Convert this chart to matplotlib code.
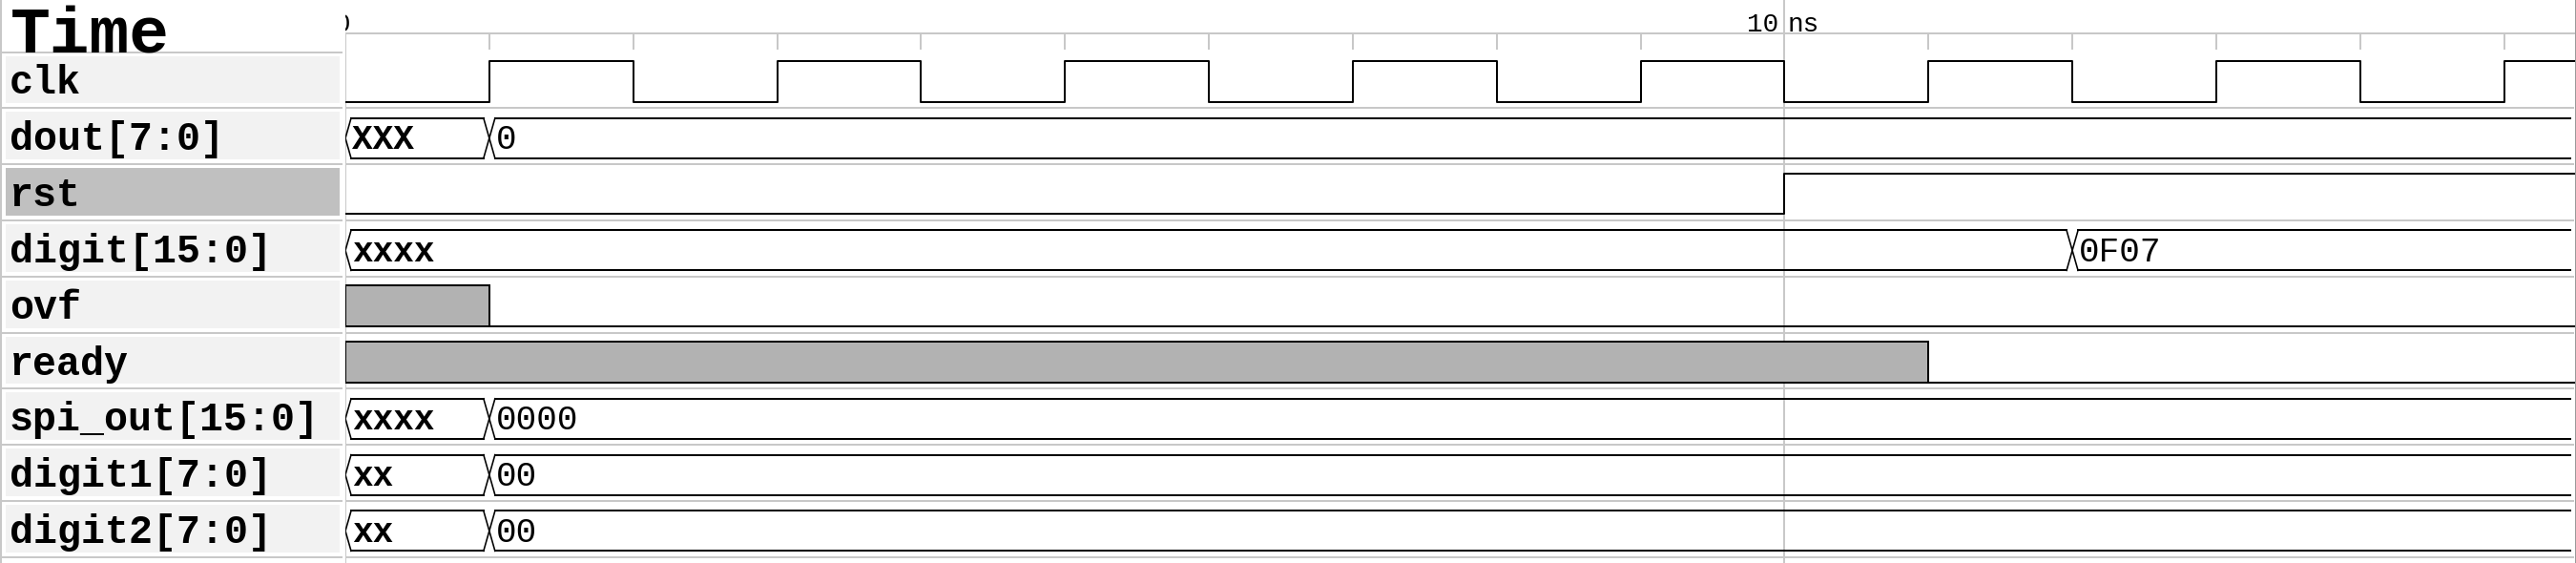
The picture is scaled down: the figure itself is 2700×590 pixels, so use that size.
import matplotlib
matplotlib.use("Agg")
import matplotlib.pyplot as plt
from matplotlib.patches import Rectangle

# ---------------- data ----------------
signal_names = ["clk", "dout[7:0]", "rst", "digit[15:0]", "ovf", "ready",
                "spi_out[15:0]", "digit1[7:0]", "digit2[7:0]"]
selected_signal = "rst"

clk_times = [0, 1, 2, 3, 4, 5, 6, 7, 8, 9, 10, 11, 12, 13, 14, 15]
clk_levels = [0, 1, 0, 1, 0, 1, 0, 1, 0, 1, 0, 1, 0, 1, 0, 1]

dout_times = [0, 1]
dout_values = ["XXX", "0"]

rst_times = [0, 10]
rst_levels = [0, 1]

digit_times = [0, 12]
digit_values = ["xxxx", "0F07"]

ovf_times = [0, 1]
ovf_levels = ["x", 0]

ready_times = [0, 11]
ready_levels = ["x", 0]

spi_out_times = [0, 1]
spi_out_values = ["xxxx", "0000"]

digit1_times = [0, 1]
digit1_values = ["xx", "00"]

digit2_times = [0, 1]
digit2_values = ["xx", "00"]

time_end = 15.5
minor_ticks = [1, 2, 3, 4, 5, 6, 7, 8, 9, 11, 12, 13, 14, 15]
major_ticks = [0, 10]
major_labels = ["0", "10"]
time_unit = "ns"
header_title = "Time"

# ---------------- layout / style ----------------
W, H = 2700, 590
WAVE_X0 = 362
LABEL_W = 358
HEADER_LINE_Y = 35
TICK_BOTTOM = 52
ROW0 = 54.5
PITCH = 58.8
HI_OFF, LO_OFF = 9.5, 52.0
BUS_TOP_OFF, BUS_BOT_OFF = 10.5, 52.5
PX = 72.0 / 100.0          # one pixel in points
LW = 2 * PX
GRID = "#c8c8c8"
XFILL = "#b2b2b2"
LABEL_BG = "#f2f2f2"
SEL_BG = "#c0c0c0"
MONO = "Liberation Mono"

fig = plt.figure(figsize=(W / 100, H / 100), dpi=100)
fig.patch.set_facecolor("white")

# label column
axl = fig.add_axes([0, 0, WAVE_X0 / W, 1])
axl.set_xlim(0, WAVE_X0)
axl.set_ylim(H, 0)
axl.axis("off")

# waveform area
axw = fig.add_axes([WAVE_X0 / W, 0, 1 - WAVE_X0 / W, 1])
axw.set_xlim(0, time_end)
axw.set_ylim(H, 0)
axw.axis("off")

ns_per_px = time_end / (W - WAVE_X0)
D = 6 * ns_per_px

# ---- label column ----
axl.plot([0.5, 0.5], [0, H], color=GRID, lw=LW)
axl.text(11, ROW0, header_title, family=MONO, fontsize=50, fontweight="bold",
         va="baseline", ha="left", color="black")
for k, name in enumerate(signal_names):
    top = ROW0 + k * PITCH
    axl.plot([0, LABEL_W], [top, top], color=GRID, lw=LW, zorder=1)
    bg = SEL_BG if name == selected_signal else LABEL_BG
    axl.add_patch(Rectangle((6, top + 4), 350, PITCH - 9, facecolor=bg,
                            edgecolor="none", zorder=0))
    axl.text(10, top + 44, name, family=MONO, fontsize=30, fontweight="bold",
             va="baseline", ha="left", color="black", zorder=2)
bottom = ROW0 + len(signal_names) * PITCH
axl.plot([0, LABEL_W], [bottom, bottom], color=GRID, lw=LW, zorder=1)

# ---- waveform area grid / header ----
axw.plot([0, time_end], [HEADER_LINE_Y, HEADER_LINE_Y], color=GRID, lw=LW, zorder=1)
axw.vlines(minor_ticks, HEADER_LINE_Y, TICK_BOTTOM, color=GRID, lw=LW, zorder=1)
axw.plot([0, 0], [HEADER_LINE_Y, H], color=GRID, lw=LW, zorder=1)
axw.plot([major_ticks[1]] * 2, [0, H], color=GRID, lw=LW, zorder=1)
axw.plot([time_end, time_end], [0, H], color="#9a9a9a", lw=LW, zorder=5)
for k in range(1, len(signal_names) + 1):
    y = ROW0 + k * PITCH
    axw.plot([0, time_end - 0.02], [y, y], color=GRID, lw=LW, zorder=1)

for t, lab in zip(major_ticks, major_labels):
    axw.text(t - 0.04 + (0.075 if t == 0 else 0), 33, lab, family=MONO,
             fontsize=20, ha="right", va="baseline", color="black",
             clip_on=True)
axw.text(major_ticks[1] + 0.02, 33, time_unit, family=MONO, fontsize=20,
         ha="left", va="baseline", color="black")


def draw_bit(k, times, levels, t_end):
    top = ROW0 + k * PITCH
    yh, yl = top + HI_OFF, top + LO_OFF
    bounds = list(times[1:]) + [t_end]
    xs, ys = [], []
    for t0, t1, lv in zip(times, bounds, levels):
        if lv == "x":
            if xs:
                axw.plot(xs, ys, color="black", lw=LW, zorder=4)
                xs, ys = [], []
            axw.add_patch(Rectangle((t0, yh), t1 - t0, yl - yh,
                                    facecolor=XFILL, edgecolor="black",
                                    lw=LW, zorder=3))
        else:
            y = yh if lv == 1 else yl
            xs += [t0, t1]
            ys += [y, y]
    if xs:
        axw.plot(xs, ys, color="black", lw=LW, zorder=4)


def draw_bus(k, times, values, t_end):
    top = ROW0 + k * PITCH
    yt, yb = top + BUS_TOP_OFF, top + BUS_BOT_OFF
    ym = (yt + yb) / 2
    bounds = list(times[1:]) + [t_end]
    n = len(times)
    for i, (t0, t1, v) in enumerate(zip(times, bounds, values)):
        if i == 0:
            axw.plot([t0 + D, t0, t0 + D], [yt, ym, yb], color="black",
                     lw=LW * 0.8, zorder=4)
        else:
            axw.plot([t0 - D, t0 + D], [yt, yb], color="black", lw=LW * 0.8, zorder=4)
            axw.plot([t0 - D, t0 + D], [yb, yt], color="black", lw=LW * 0.8, zorder=4)
        end = t1 - D if i < n - 1 else t1
        axw.plot([t0 + D, end], [yt, yt], color="black", lw=LW, zorder=4)
        axw.plot([t0 + D, end], [yb, yb], color="black", lw=LW, zorder=4)
        is_x = v.lower().strip("x") == ""
        axw.text(t0 + D + 0.005, top + 43, v, family=MONO, fontsize=26,
                 fontweight="bold" if is_x else "normal",
                 ha="left", va="baseline", color="black", zorder=5)


bus_end = time_end - 0.04
draw_bit(0, clk_times, clk_levels, time_end)
draw_bus(1, dout_times, dout_values, bus_end)
draw_bit(2, rst_times, rst_levels, time_end)
draw_bus(3, digit_times, digit_values, bus_end)
draw_bit(4, ovf_times, ovf_levels, time_end)
draw_bit(5, ready_times, ready_levels, time_end)
draw_bus(6, spi_out_times, spi_out_values, bus_end)
draw_bus(7, digit1_times, digit1_values, bus_end)
draw_bus(8, digit2_times, digit2_values, bus_end)

fig.savefig("out.png", dpi=100)
